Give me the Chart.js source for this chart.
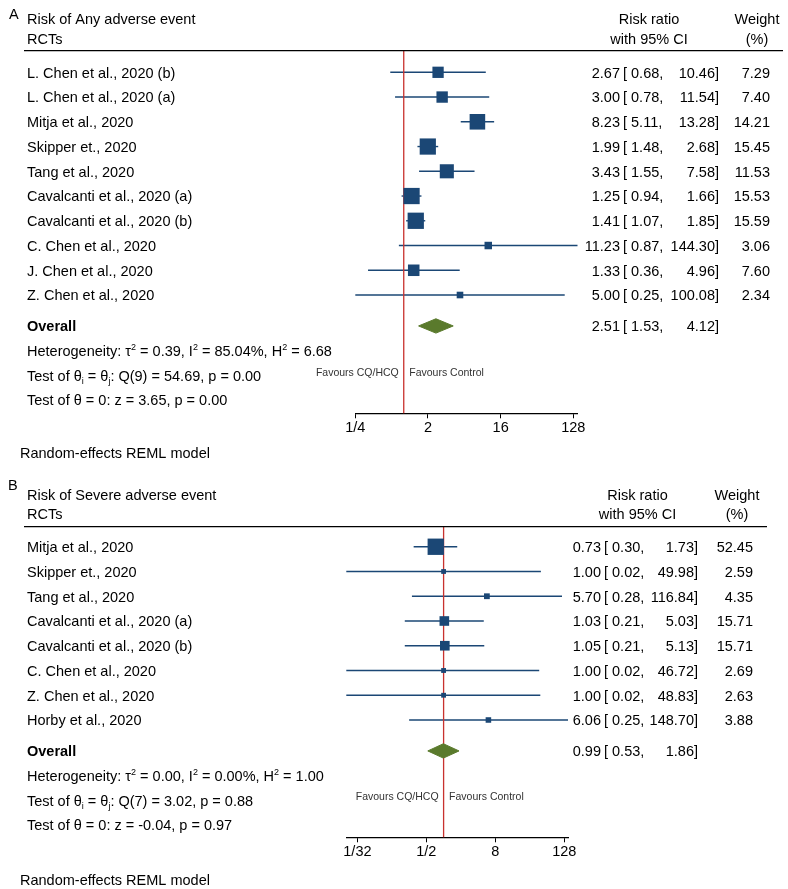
<!DOCTYPE html>
<html>
<head>
<meta charset="utf-8">
<script src="https://cdn.jsdelivr.net/npm/chart.js@4.4.1/dist/chart.umd.min.js"></script>
<style>
  body { margin: 0; background: #fff; }
  #wrap { position: relative; width: 788px; height: 889px; }
  canvas { position: absolute; left: 0; }
  #chartA { top: 0; }
  #chartB { top: 470px; }
</style>
</head>
<body>
<div id="wrap">
  <canvas id="chartA" width="788" height="470"></canvas>
  <canvas id="chartB" width="788" height="419"></canvas>
</div>
<script>
// Panel A - any adverse event
const studiesA = ['L. Chen et al., 2020 (b)', 'L. Chen et al., 2020 (a)', 'Mitja et al., 2020', 'Skipper et., 2020',
  'Tang et al., 2020', 'Cavalcanti et al., 2020 (a)', 'Cavalcanti et al., 2020 (b)', 'C. Chen et al., 2020',
  'J. Chen et al., 2020', 'Z. Chen et al., 2020'];
const rrA = [2.67, 3.00, 8.23, 1.99, 3.43, 1.25, 1.41, 11.23, 1.33, 5.00];
const lowA = [0.68, 0.78, 5.11, 1.48, 1.55, 0.94, 1.07, 0.87, 0.36, 0.25];
const highA = [10.46, 11.54, 13.28, 2.68, 7.58, 1.66, 1.85, 144.30, 4.96, 100.08];
const weightA = [7.29, 7.40, 14.21, 15.45, 11.53, 15.53, 15.59, 3.06, 7.60, 2.34];
const overallA = [2.51, 1.53, 4.12];
const statsA = ['Heterogeneity: τ^2 = 0.39, I^2 = 85.04%, H^2 = 6.68', 'Test of θ_i = θ_j: Q(9) = 54.69, p = 0.00',
  'Test of θ = 0: z = 3.65, p = 0.00'];
const ticksA = [0.25, 2, 16, 128];
const tickLabelsA = ['1/4', '2', '16', '128'];

// Panel B - severe adverse event
const studiesB = ['Mitja et al., 2020', 'Skipper et., 2020', 'Tang et al., 2020', 'Cavalcanti et al., 2020 (a)',
  'Cavalcanti et al., 2020 (b)', 'C. Chen et al., 2020', 'Z. Chen et al., 2020', 'Horby et al., 2020'];
const rrB = [0.73, 1.00, 5.70, 1.03, 1.05, 1.00, 1.00, 6.06];
const lowB = [0.30, 0.02, 0.28, 0.21, 0.21, 0.02, 0.02, 0.25];
const highB = [1.73, 49.98, 116.84, 5.03, 5.13, 46.72, 48.83, 148.70];
const weightB = [52.45, 2.59, 4.35, 15.71, 15.71, 2.69, 2.63, 3.88];
const overallB = [0.99, 0.53, 1.86];
const statsB = ['Heterogeneity: τ^2 = 0.00, I^2 = 0.00%, H^2 = 1.00', 'Test of θ_i = θ_j: Q(7) = 3.02, p = 0.88',
  'Test of θ = 0: z = -0.04, p = 0.97'];
const ticksB = [1 / 32, 0.5, 8, 128];
const tickLabelsB = ['1/32', '1/2', '8', '128'];

const FAM = '"Liberation Sans", Arial, Helvetica, sans-serif';
const FS = 14.5;
const NAVY = '#1b4775';
const GREEN = '#5a7a2c';
const RED = '#c8322e';

// text with ^x superscripts and _x subscripts
function drawRich(ctx, str, x, y) {
  str.split(/([\^_].)/).forEach(part => {
    if (!part) return;
    let txt = part, dy = 0, size = FS;
    if (part[0] === '^') { txt = part[1]; dy = -6; size = 9; }
    else if (part[0] === '_') { txt = part[1]; dy = 3; size = 9; }
    ctx.font = size + 'px ' + FAM;
    ctx.fillText(txt, x, y + dy);
    x += ctx.measureText(txt).width;
  });
  ctx.font = FS + 'px ' + FAM;
}

function forest(id, p) {
  const n = p.studies.length;
  const yOv = n + 0.25;
  const [oe, ol, oh] = p.overall;

  // first dataset ends up on top
  const datasets = [];
  datasets.push({
    data: p.rr.map((v, i) => ({ x: v, y: i })),
    pointStyle: 'rect',
    pointRadius: p.weight.map(w => (p.sq[0] + p.sq[1] * Math.sqrt(w)) / Math.SQRT2),
    backgroundColor: NAVY,
    borderWidth: 0
  });
  datasets.push({
    data: [{ x: ol, y: yOv }, { x: oe, y: yOv - 0.29 }, { x: oh, y: yOv }, { x: oe, y: yOv + 0.29 }, { x: ol, y: yOv }],
    showLine: true, fill: 'shape', backgroundColor: GREEN, borderColor: GREEN, borderWidth: 1, pointRadius: 0
  });
  datasets.push({
    data: [{ x: 1, y: p.yMin }, { x: 1, y: p.yMax }],
    showLine: true, borderColor: RED, borderWidth: 1.3, pointRadius: 0
  });
  p.studies.forEach((s, i) => {
    datasets.push({
      data: [{ x: p.low[i], y: i }, { x: p.high[i], y: i }],
      showLine: true, borderColor: NAVY, borderWidth: 1.4, pointRadius: 0
    });
  });

  const textPlugin = {
    id: 'forestText',
    afterDraw(chart) {
      const ctx = chart.ctx;
      const ys = chart.scales.y, xs = chart.scales.x;
      const L = p.lay;
      ctx.save();
      ctx.fillStyle = '#000';
      ctx.textBaseline = 'alphabetic';
      ctx.font = FS + 'px ' + FAM;

      ctx.textAlign = 'left';
      ctx.fillText(p.letter, L.letter[0], L.letter[1]);
      ctx.fillText(p.title, 27, L.head1);
      ctx.fillText('RCTs', 27, L.head2);
      ctx.textAlign = 'center';
      ctx.fillText('Risk ratio', L.rrHead, L.head1);
      ctx.fillText('with 95% CI', L.rrHead, L.head2);
      ctx.fillText('Weight', L.wtHead, L.head1);
      ctx.fillText('(%)', L.wtHead, L.head2);

      ctx.strokeStyle = '#000';
      ctx.lineWidth = 1.3;
      ctx.beginPath();
      ctx.moveTo(24, chart.chartArea.top);
      ctx.lineTo(L.lineEnd, chart.chartArea.top);
      ctx.stroke();

      const row = (i, label, est, lo, hi, w, bold) => {
        const by = ys.getPixelForValue(i) + 5.3;
        ctx.textAlign = 'left';
        ctx.font = (bold ? 'bold ' : '') + FS + 'px ' + FAM;
        ctx.fillText(label, 27, by);
        ctx.font = FS + 'px ' + FAM;
        ctx.textAlign = 'right';
        ctx.fillText(est.toFixed(2), L.estX, by);
        ctx.textAlign = 'left';
        ctx.fillText('[ ' + lo.toFixed(2) + ',', L.estX + 3, by);
        ctx.textAlign = 'right';
        ctx.fillText(hi.toFixed(2) + ']', L.hiX, by);
        if (w !== null) ctx.fillText(w.toFixed(2), L.wtX, by);
      };
      p.studies.forEach((s, i) => row(i, s, p.rr[i], p.low[i], p.high[i], p.weight[i], false));
      row(yOv, 'Overall', oe, ol, oh, null, true);

      ctx.textAlign = 'left';
      p.stats.forEach((s, k) => drawRich(ctx, s, 27, ys.getPixelForValue(yOv + 1 + k) + 5.3));

      ctx.fillText('Random-effects REML model', 20, L.model);

      const x1 = xs.getPixelForValue(1);
      const fy = chart.chartArea.bottom - 41.5 + 3.7;
      ctx.font = '10.5px ' + FAM;
      ctx.fillStyle = '#333';
      ctx.textAlign = 'right';
      ctx.fillText('Favours CQ/HCQ', x1 - 5, fy);
      ctx.textAlign = 'left';
      ctx.fillText('Favours Control', x1 + 5.5, fy);
      ctx.restore();
    }
  };

  return new Chart(document.getElementById(id), {
    type: 'scatter',
    data: { datasets: datasets.map(d => Object.assign({ clip: false }, d)) },
    options: {
      responsive: false,
      animation: false,
      devicePixelRatio: 1,
      layout: { padding: p.pad },
      plugins: { legend: { display: false }, tooltip: { enabled: false } },
      scales: {
        x: {
          type: 'logarithmic',
          min: Math.min(...p.low),
          max: Math.max(...p.high),
          afterBuildTicks: s => { s.ticks = p.ticks.map(v => ({ value: v })); },
          afterFit: s => { s.height = 40; },
          grid: { drawOnChartArea: false, drawTicks: true, tickLength: 5, color: '#000', lineWidth: 1 },
          border: { display: true, color: '#000', width: 1.2 },
          ticks: {
            padding: 1, color: '#000', maxRotation: 0, autoSkip: false,
            font: { family: FAM, size: FS },
            callback: (v, i) => p.tickLabels[i]
          }
        },
        y: { type: 'linear', display: false, reverse: true, min: p.yMin, max: p.yMax }
      }
    },
    plugins: [textPlugin]
  });
}

forest('chartA', {
  studies: studiesA, rr: rrA, low: lowA, high: highA, weight: weightA, overall: overallA, stats: statsA,
  ticks: ticksA, tickLabels: tickLabelsA,
  letter: 'A', title: 'Risk of Any adverse event',
  yMin: -0.873, yMax: 13.78, sq: [0.5, 4.0],
  pad: { left: 355.3, right: 210.5, top: 50.7, bottom: 16.7 },
  lay: { letter: [9, 18.5], head1: 24, head2: 43.5, rrHead: 649, wtHead: 757, lineEnd: 783,
    estX: 620, hiX: 719, wtX: 770, model: 457.7 }
});

forest('chartB', {
  studies: studiesB, rr: rrB, low: lowB, high: highB, weight: weightB, overall: overallB, stats: statsB,
  ticks: ticksB, tickLabels: tickLabelsB,
  letter: 'B', title: 'Risk of Severe adverse event',
  yMin: -0.81, yMax: 11.74, sq: [1.5, 2.05],
  pad: { left: 346.3, right: 220, top: 56.7, bottom: 11.7 },
  lay: { letter: [8, 19.5], head1: 30, head2: 49, rrHead: 637.5, wtHead: 737, lineEnd: 767,
    estX: 601, hiX: 698, wtX: 753, model: 414.5 }
});
</script>
</body>
</html>
